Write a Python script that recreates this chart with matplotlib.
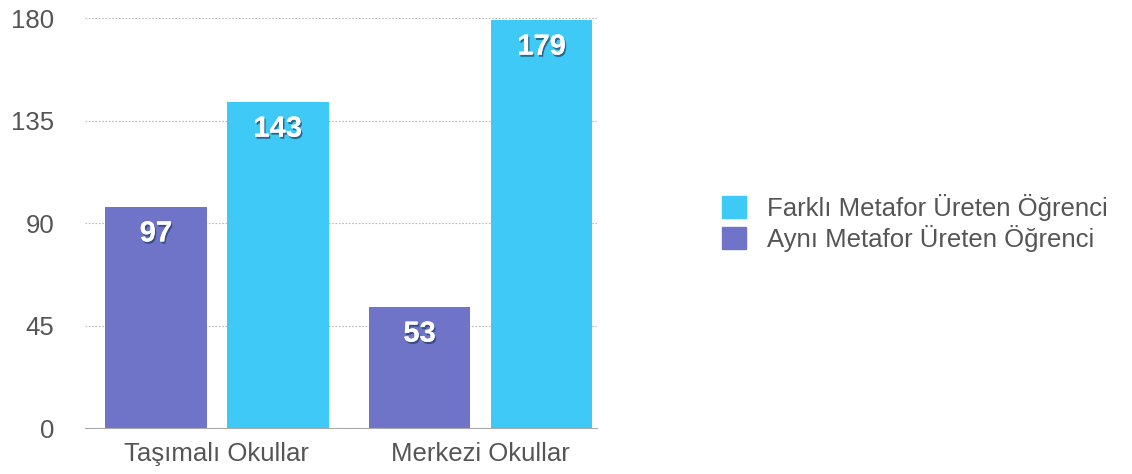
import matplotlib.pyplot as plt
import matplotlib.patheffects as pe
from matplotlib.patches import Patch
import numpy as np

plt.rcParams['font.family'] = ['Liberation Sans', 'DejaVu Sans']

groups = ['Taşımalı Okullar', 'Merkezi Okullar']
same_vals = [97, 53]        # Aynı Metafor Üreten Öğrenci
diff_vals = [143, 179]      # Farklı Metafor Üreten Öğrenci
series_names = ['Farklı Metafor Üreten Öğrenci', 'Aynı Metafor Üreten Öğrenci']
yticks = [0, 45, 90, 135, 180]

c_same = '#6f74c8'
c_diff = '#3ec9f6'

fig = plt.figure(figsize=(11.32, 4.74), dpi=100)
ax = fig.add_axes([0.075, 0.097, 0.452, 0.865])

x = np.arange(len(groups))
w = 0.386
off = 0.231
b1 = ax.bar(x - off, same_vals, w, color=c_same, zorder=3)
b2 = ax.bar(x + off, diff_vals, w, color=c_diff, zorder=3)

shadow = [pe.withSimplePatchShadow(offset=(1, -1.5), shadow_rgbFace='#1f3f66', alpha=0.7), pe.Normal()]
for bars in (b1, b2):
    for r in bars:
        ax.annotate(str(int(r.get_height())), (r.get_x() + r.get_width() / 2, r.get_height()),
                    xytext=(0, -19), textcoords='offset points', ha='center', va='center',
                    color='white', fontsize=21, fontweight='bold', zorder=4, path_effects=shadow)

ax.set_ylim(0, 180)
ax.set_xlim(-0.5, 1.44)
ax.set_yticks(yticks)
ax.set_xticks(x)
ax.set_xticklabels(groups)
ax.tick_params(length=0, labelsize=18.5, labelcolor='#555555')
ax.tick_params(axis='x', pad=10)
ax.tick_params(axis='y', pad=22)
ax.yaxis.grid(True, linestyle=(0, (1.5, 1.5)), color='#bbbbbb', linewidth=0.8, zorder=0)
for s in ['top', 'right', 'left']:
    ax.spines[s].set_visible(False)
ax.spines['bottom'].set_color('#aaaaaa')
ax.spines['bottom'].set_zorder(5)

handles = [Patch(color=c_diff), Patch(color=c_same)]
fig.legend(handles, series_names, loc='center left', bbox_to_anchor=(0.617, 0.53),
           frameon=False, fontsize=18.5, labelcolor='#555555', handlelength=0.95, handleheight=0.9,
           handletextpad=0.8, labelspacing=0.15)

fig.savefig('out.png', dpi=100)
